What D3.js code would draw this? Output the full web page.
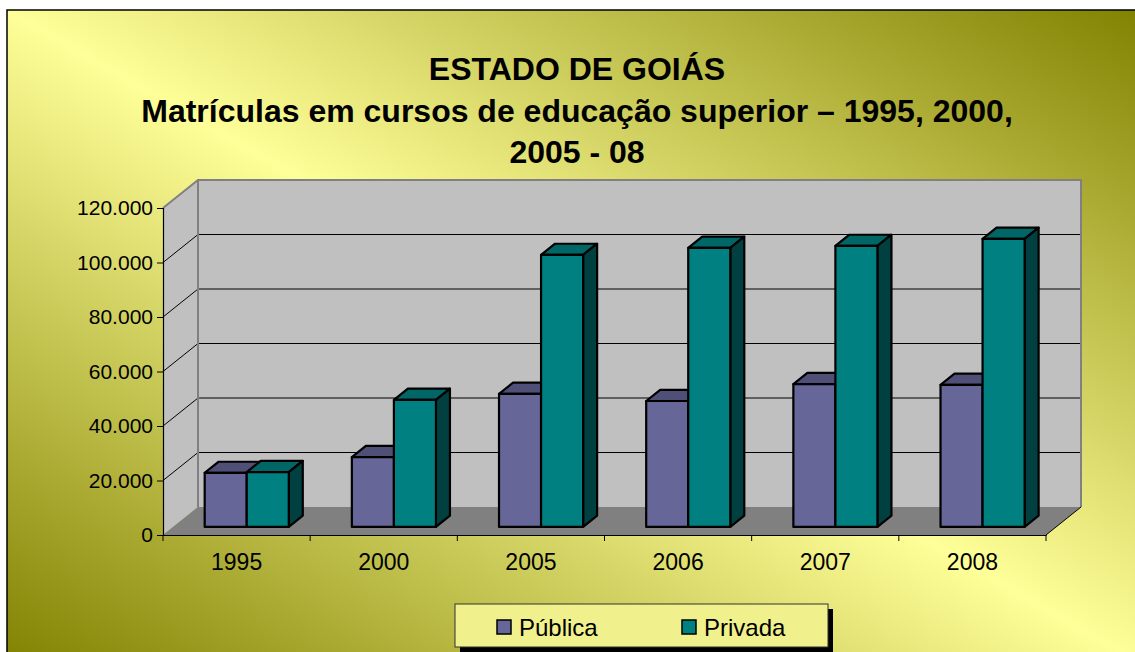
<!DOCTYPE html>
<head>
  <meta charset="utf-8">
  <script src="https://d3js.org/d3.v7.min.js"></script>
  <style>
    body { margin: 0; background: #fff; }
    svg { position: absolute; top: 0; left: 0; }
    text { font-family: "Liberation Sans", Arial, sans-serif; fill: #000; }
  </style>
</head>
<body>
  <svg width="1135" height="652"></svg>
  <script>
    // data
    var years = ['1995', '2000', '2005', '2006', '2007', '2008'];
    var series = ['Pública', 'Privada'];
    var publica = [19800, 25600, 48800, 46200, 52400, 52100];
    var privada = [20100, 46600, 99800, 102400, 103100, 105700];
    var yTicks = [0, 20000, 40000, 60000, 80000, 100000, 120000];
    var titleLines = ['ESTADO DE GOIÁS',
      'Matrículas em cursos de educação superior – 1995, 2000,',
      '2005 - 08'];

    var colors = {
      'Pública': {front: '#666699', top: '#4f4f78', side: '#3a3a5c'},
      'Privada': {front: '#008080', top: '#006666', side: '#004040'}
    };

    var svg = d3.select('svg');

    // chart frame with the office style diagonal gradient
    var defs = svg.append('defs');
    var grad = defs.append('linearGradient')
      .attr('id', 'bg')
      .attr('x1', 0).attr('y1', 1)
      .attr('x2', 1).attr('y2', 0);
    grad.append('stop').attr('offset', '0%').attr('stop-color', '#808000');
    grad.append('stop').attr('offset', '50%').attr('stop-color', '#ffff99');
    grad.append('stop').attr('offset', '100%').attr('stop-color', '#808000');

    svg.append('rect')
      .attr('x', 7).attr('y', 10)
      .attr('width', 1145).attr('height', 660)
      .attr('fill', 'url(#bg)')
      .attr('stroke', '#000')
      .attr('stroke-width', 1.5);

    // title
    svg.append('g').selectAll('text')
      .data(titleLines).enter().append('text')
      .attr('x', 577)
      .attr('y', function(d, i) { return 80 + i * 41.5; })
      .attr('text-anchor', 'middle')
      .style('font-size', '32px')
      .style('font-weight', 'bold')
      .text(function(d) { return d; });

    // 3d plot geometry: front plane + depth vector
    var plotLeft = 163, plotRight = 1046, plotBottom = 535, plotTop = 208;
    var depthX = 35, depthY = -28;
    var d0 = 0.29, d1 = 0.69; // bar depth range

    var x = d3.scaleBand().domain(years).range([plotLeft, plotRight]);
    var xs = d3.scaleBand().domain(series).range([0, x.bandwidth()])
      .paddingInner(0).paddingOuter(0.75);
    var y = d3.scaleLinear().domain([0, 120000]).range([plotBottom, plotTop]);

    function p(px, py, d) {
      return [px + depthX * d, py + depthY * d];
    }
    function poly(pts) {
      return 'M' + pts.map(function(q) { return q.join(','); }).join('L') + 'Z';
    }

    var plot = svg.append('g');

    // left side wall
    plot.append('path')
      .attr('d', poly([p(plotLeft, plotBottom, 0), p(plotLeft, plotTop, 0), p(plotLeft, plotTop, 1), p(plotLeft, plotBottom, 1)]))
      .attr('fill', '#c0c0c0');
    // back wall
    plot.append('path')
      .attr('d', poly([p(plotLeft, plotBottom, 1), p(plotLeft, plotTop, 1), p(plotRight, plotTop, 1), p(plotRight, plotBottom, 1)]))
      .attr('fill', '#c0c0c0');
    // floor
    plot.append('path')
      .attr('d', poly([p(plotLeft, plotBottom, 0), p(plotRight, plotBottom, 0), p(plotRight, plotBottom, 1), p(plotLeft, plotBottom, 1)]))
      .attr('fill', '#808080');

    // gridlines on side wall and back wall
    var grid = yTicks.filter(function(t) { return t > 0 && t < 120000; });
    plot.selectAll('line.gside')
      .data(grid).enter().append('line')
      .attr('x1', plotLeft).attr('y1', function(d) { return y(d); })
      .attr('x2', plotLeft + depthX).attr('y2', function(d) { return y(d) + depthY; })
      .attr('stroke', '#000').attr('stroke-width', 1);
    plot.selectAll('line.gback')
      .data(grid).enter().append('line')
      .attr('x1', plotLeft + depthX).attr('y1', function(d) { return y(d) + depthY; })
      .attr('x2', plotRight + depthX).attr('y2', function(d) { return y(d) + depthY; })
      .attr('stroke', '#000').attr('stroke-width', 1.2);

    // wall borders
    plot.append('path')
      .attr('d', 'M' + p(plotLeft, plotTop, 0) + 'L' + p(plotLeft, plotTop, 1) + 'L' + p(plotRight, plotTop, 1) + 'L' + p(plotRight, plotBottom, 1))
      .attr('fill', 'none').attr('stroke', '#808080').attr('stroke-width', 2);
    plot.append('line')
      .attr('x1', plotLeft + depthX).attr('y1', plotTop + depthY)
      .attr('x2', plotLeft + depthX).attr('y2', plotBottom + depthY)
      .attr('stroke', '#808080').attr('stroke-width', 2);
    plot.append('line')
      .attr('x1', plotRight).attr('y1', plotBottom)
      .attr('x2', plotRight + depthX).attr('y2', plotBottom + depthY)
      .attr('stroke', '#000').attr('stroke-width', 1);

    // bars
    var rows = [];
    years.forEach(function(yr, i) {
      rows.push({year: yr, s: 'Pública', v: publica[i]});
      rows.push({year: yr, s: 'Privada', v: privada[i]});
    });

    var bars = plot.selectAll('g.bar')
      .data(rows).enter().append('g')
      .classed('bar', true);

    bars.each(function(d) {
      var g = d3.select(this);
      var bx0 = x(d.year) + xs(d.s);
      var bx1 = bx0 + xs.bandwidth();
      var yt = y(d.v), yb = y(0);
      var c = colors[d.s];
      g.append('path')
        .attr('d', poly([p(bx0, yt, d0), p(bx1, yt, d0), p(bx1, yt, d1), p(bx0, yt, d1)]))
        .attr('fill', c.top);
      g.append('path')
        .attr('d', poly([p(bx1, yt, d0), p(bx1, yb, d0), p(bx1, yb, d1), p(bx1, yt, d1)]))
        .attr('fill', c.side);
      g.append('path')
        .attr('d', poly([p(bx0, yt, d0), p(bx1, yt, d0), p(bx1, yb, d0), p(bx0, yb, d0)]))
        .attr('fill', c.front);
      g.selectAll('path')
        .attr('stroke', '#000').attr('stroke-width', 2.2)
        .attr('stroke-linejoin', 'round');
    });

    // axes
    var ptBR = d3.formatLocale({decimal: ',', thousands: '.', grouping: [3], currency: ['R$', '']});
    var fmt = ptBR.format(',');

    var yAxis = svg.append('g')
      .attr('transform', 'translate(' + plotLeft + ',0)')
      .call(d3.axisLeft(y).tickValues(yTicks).tickFormat(fmt).tickSize(6).tickPadding(4));
    yAxis.select('.domain').attr('stroke', '#000').attr('stroke-width', 1.2);
    yAxis.selectAll('.tick line').attr('stroke', '#000');
    yAxis.selectAll('text')
      .style('font-size', '21px')
      .style('font-family', '"Liberation Sans", Arial, sans-serif')
      .attr('fill', '#000');

    var xAxis = svg.append('g')
      .attr('transform', 'translate(0,' + plotBottom + ')')
      .call(d3.axisBottom(x).tickSize(0).tickPadding(19));
    xAxis.select('.domain').attr('stroke', '#000').attr('stroke-width', 1.2);
    xAxis.selectAll('text')
      .style('font-size', '23px')
      .style('font-family', '"Liberation Sans", Arial, sans-serif')
      .attr('fill', '#000');
    // tick marks at category boundaries
    xAxis.selectAll('line.bound')
      .data(d3.range(years.length + 1)).enter().append('line')
      .attr('x1', function(i) { return plotLeft + i * x.step(); })
      .attr('x2', function(i) { return plotLeft + i * x.step(); })
      .attr('y1', 0).attr('y2', 6)
      .attr('stroke', '#000');

    // legend
    var lg = svg.append('g').attr('transform', 'translate(455,604)');
    lg.append('rect')
      .attr('x', 5).attr('y', 5).attr('width', 373).attr('height', 43)
      .attr('fill', '#000');
    lg.append('rect')
      .attr('width', 373).attr('height', 43)
      .attr('fill', '#f0f08c')
      .attr('stroke', '#333').attr('stroke-width', 1);
    var items = lg.selectAll('g.item')
      .data(series).enter().append('g')
      .attr('transform', function(d, i) { return 'translate(' + (42 + i * 185) + ',0)'; });
    items.append('rect')
      .attr('x', 0).attr('y', 16).attr('width', 14).attr('height', 14)
      .attr('fill', function(d) { return colors[d].front; })
      .attr('stroke', '#000').attr('stroke-width', 1.5);
    items.append('text')
      .attr('x', 22).attr('y', 32)
      .style('font-size', '24px')
      .text(function(d) { return d; });
  </script>
</body>
